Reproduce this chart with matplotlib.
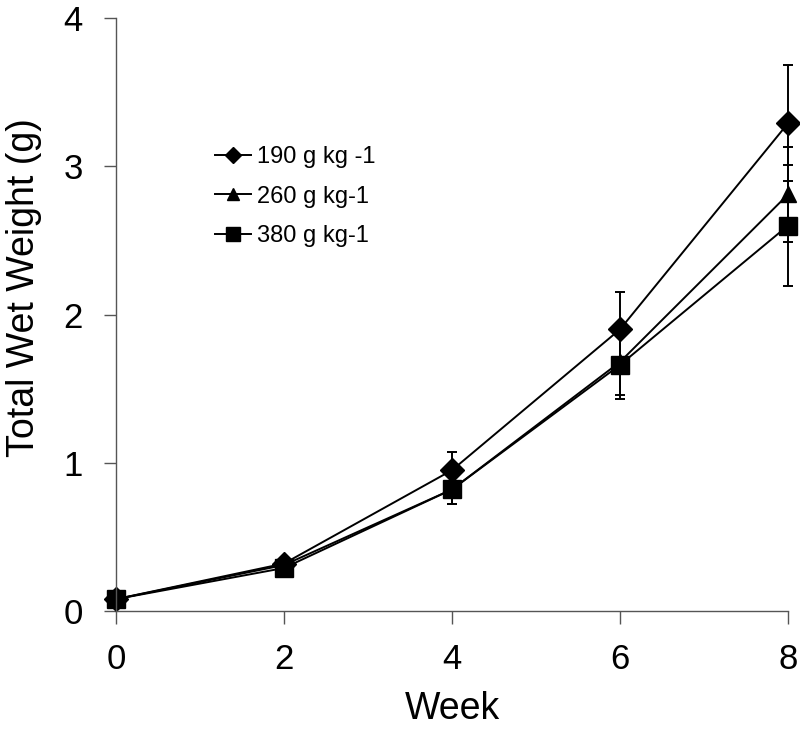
import matplotlib
matplotlib.use("Agg")
import matplotlib.pyplot as plt
from matplotlib.lines import Line2D

weeks = [0, 2, 4, 6, 8]
labels = ["190 g kg -1", "260 g kg-1", "380 g kg-1"]
w190 = [0.08, 0.32, 0.95, 1.90, 3.29]
w260 = [0.08, 0.31, 0.82, 1.68, 2.81]
w380 = [0.08, 0.29, 0.82, 1.66, 2.60]
e190 = [0.0, 0.02, 0.12, 0.25, 0.39]
e260 = [0.0, 0.02, 0.10, 0.22, 0.32]
e380 = [0.0, 0.02, 0.10, 0.23, 0.41]

plt.rcParams['font.family'] = ['Liberation Sans', 'DejaVu Sans']
fig = plt.figure(figsize=(8, 7.52), dpi=100)
ax = fig.add_axes([0.145, 0.1875, 0.84, 0.7885])

series = [(w190, e190, 'D', 12), (w260, e260, '^', 12), (w380, e380, 's', 13)]
for (vals, errs, mk, ms), lab in zip(series, labels):
    ax.errorbar(weeks, vals, yerr=errs, color='black', marker=mk, markersize=ms,
                linewidth=1.4, elinewidth=1.4, capsize=3.5, capthick=1.4, label=lab)

ax.set_xlim(0, 8)
ax.set_ylim(0, 4)
ax.set_xticks([0, 2, 4, 6, 8])
ax.set_yticks([0, 1, 2, 3, 4])
ax.tick_params(labelsize=25, direction='out', length=9, width=1, colors='#555555', labelcolor='black')
ax.tick_params(axis='x', pad=14)
ax.tick_params(axis='y', pad=15)
for s in ['top', 'right']:
    ax.spines[s].set_visible(False)
for s in ['left', 'bottom']:
    ax.spines[s].set_color('#555555')
    ax.spines[s].set_linewidth(1)
for c in ax.get_children():
    try:
        c.set_clip_on(False)
    except Exception:
        pass

ax.set_xlabel("Week", fontsize=27, labelpad=11)
ax.set_ylabel("Total Wet Weight (g)", fontsize=27, labelpad=15)
ax.yaxis.label.set_y(0.546)

hs = [Line2D([], [], color='black', marker=m, markersize=s, linewidth=1.4)
      for m, s in [('D', 8), ('^', 9), ('s', 10)]]
ax.legend(hs, labels, loc='upper left', bbox_to_anchor=(0.115, 0.82), frameon=False,
          fontsize=17, handlelength=1.55, handletextpad=0.25, labelspacing=0.75)

fig.savefig("out.png", dpi=100)
